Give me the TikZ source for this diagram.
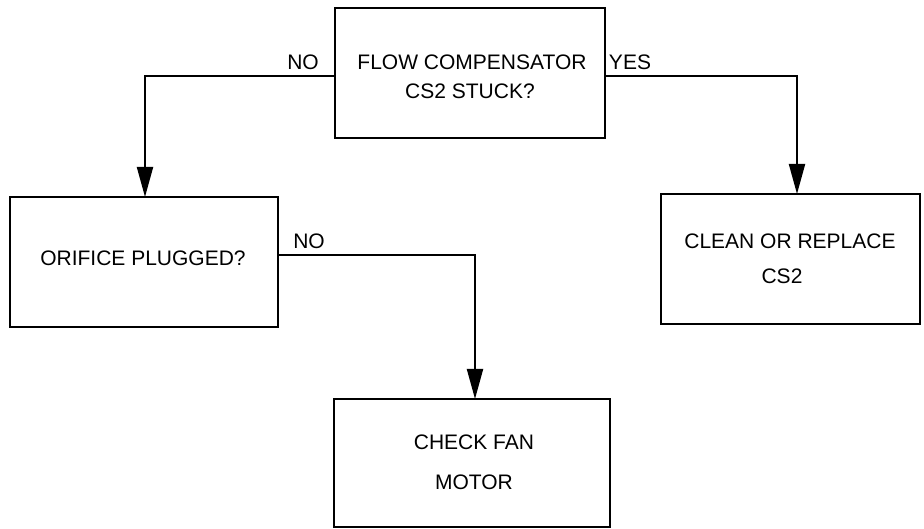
\documentclass[tikz,border=0pt]{standalone}
\usepackage{fontspec}
\setmainfont{Liberation Sans}
\usetikzlibrary{arrows.meta}
\begin{document}
\begin{tikzpicture}[x=1pt,y=-1pt,
  lbl/.style={font=\fontsize{21}{25}\selectfont,inner sep=0pt},
  frame/.style={line width=2pt},
  conn/.style={line width=2pt,-{Triangle[length=30pt,width=16pt]}}]
\useasboundingbox (0,0) rectangle (924,529);
% boxes
\draw[frame] (335,8) rectangle (605,138);
\node[inner sep=0pt,minimum width=270pt,minimum height=130pt] (q1) at (470,73) {};
\draw[frame] (10,197) rectangle (278,327);
\node[inner sep=0pt,minimum width=268pt,minimum height=130pt] (q2) at (144,262) {};
\draw[frame] (661,194) rectangle (920,324);
\node[inner sep=0pt,minimum width=259pt,minimum height=130pt] (a1) at (790.5,259) {};
\draw[frame] (334,399) rectangle (610,527);
\node[inner sep=0pt,minimum width=276pt,minimum height=128pt] (a2) at (472,463) {};
% texts
\node[lbl] (t1) at (472,62) {FLOW COMPENSATOR};
\node[lbl] (t2) at (470,91) {CS2 STUCK?};
\node[lbl] (t3) at (143,258) {ORIFICE PLUGGED?};
\node[lbl] (t4) at (790,241) {CLEAN OR REPLACE};
\node[lbl] (t5) at (782,276) {CS2};
\node[lbl] (t6) at (474,442) {CHECK FAN};
\node[lbl] (t7) at (474,482) {MOTOR};
% connectors
\coordinate (c1) at (145,76);
\coordinate (c2) at (797,76);
\coordinate (c3) at (475,255);
\draw[conn] (335,76) -- (c1) -- (145,197);
\draw[conn] (605,76) -- (c2) -- (797,194);
\draw[conn] (278,255) -- (c3) -- (475,399);
% branch labels
\node[lbl] (n1) at (303,62) {NO};
\node[lbl] (y1) at (630,62) {YES};
\node[lbl] (n2) at (309,241) {NO};
\end{tikzpicture}
\end{document}
